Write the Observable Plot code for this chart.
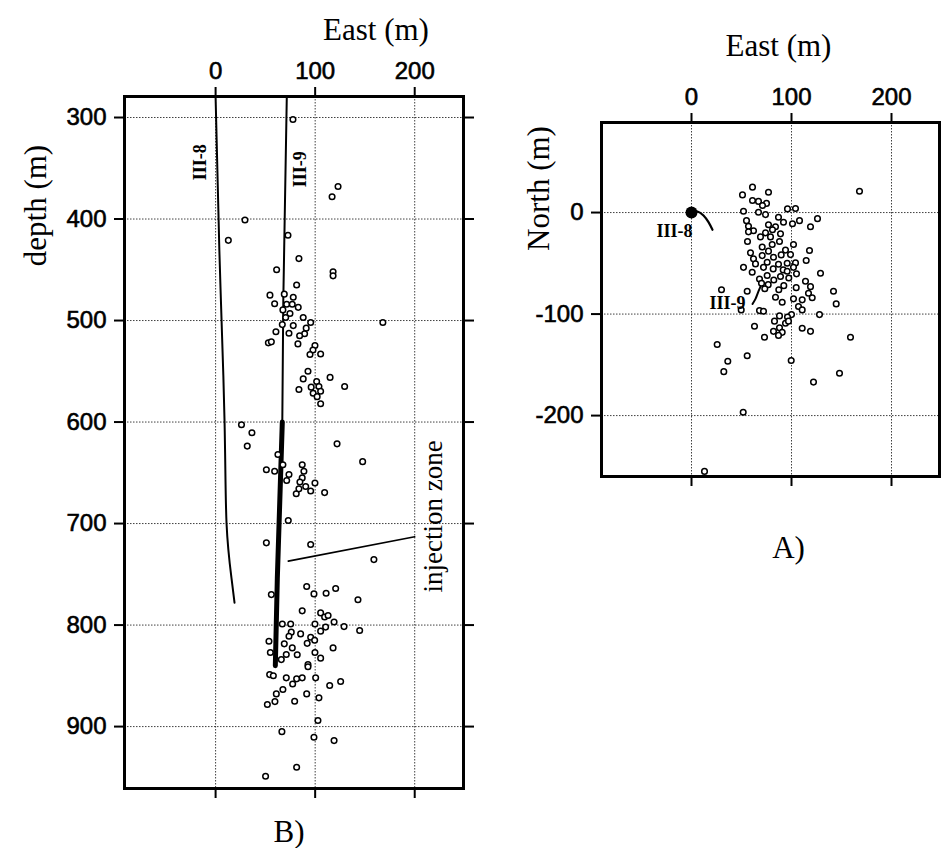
<!DOCTYPE html>
<html><head><meta charset="utf-8">
<script src="https://cdn.jsdelivr.net/npm/d3@7"></script>
<script src="https://cdn.jsdelivr.net/npm/@observablehq/plot@0.6"></script>
<style>
body{margin:0;background:#fff}
#wrap{position:relative;width:941px;height:848px;overflow:hidden;background:#fff}
#left{position:absolute;left:0;top:0}
#right{position:absolute;left:480px;top:0}
g[aria-label$="tick label"] text{stroke:#000;stroke-width:0.6px}
</style></head><body><div id="wrap"><div id="left"></div><div id="right"></div></div>
<script>
// ---- tick values ----
const ticksEast = [0, 100, 200];
const ticksDepth = [300, 400, 500, 600, 700, 800, 900];
const ticksNorth = [0, -100, -200];

// ---- B) depth section: events (East m, depth m) ----
const sideEast = [77.7,123,117,29.5,12.8,72.7,83.7,61.3,118,118,81.4,54.6,69,78,
59.3,71.4,77,83,67.6,74.7,70.4,88,95.5,168,67,78,91,60.6,73.7,89.4,84.4,53,56,82.7,99.8,97.8,105.5,94.8,
92.8,88,115,129.6,83.7,101.5,96,103.8,98,105.5,102,105.5,26,36.5,31.8,122,147.7,62.6,67.6,87,51,59.3,88.7,
73.7,87,71.4,84.7,99.8,90.5,109.5,81,95.5,83.7,73,51,95.5,159,
91.5,56,98.8,111,120.6,143,87,105.5,109.5,113,119,129,144.7,67,75.4,99.8,110.5,76,105.5,85.4,95.5,99.5,73.7,
53.6,69,92,118,77,55,71,82,99.8,105.5,66,92.8,92.8,54.3,58,71,81.4,87,100.5,125.6,77.4,114.6,67.6,61,91.5,
52,59.6,79.4,103.8,102.8,66.6,98.8,119,81.4,50.2];
const sideDepth = [302,368,378,401,421,416,439,450,452,456,465,475,474,477,
483.5,484,484,487,489.5,493,497,497,502,502,504,505,507.5,511,512.5,513,515,522,521,523,524.6,529,533,533.5,
550,557.5,556,565,568,560,565.6,565,571.6,569.6,575,582,602.7,610.6,623.7,621.5,639,632,642,642,647,648.5,648.5,
651.7,655,657.6,659,660,663.5,669.5,670.7,668,665.8,697,719,720.7,735.5,
762,770,769.3,768.6,764,775,786,788,792,790.6,797,801.5,805.4,799,799,799,802,807,806,808.7,812,815,811,
816,818.5,818,822.5,822.5,827,829,829.3,827,832.6,834,839,841,848.8,850,852,853,852,852,855.6,858,859.6,863.5,867.8,867.8,
878.3,875.4,875,871.7,894,905,910.5,913.8,940,949];

// well tracks in section
const well8SideEast = [0, 3, 5, 9, 11, 16, 19];
const well8SideDepth = [280, 400, 470, 600, 700, 754, 778];
const well9UpperEast = [71.5, 68, 67];
const well9UpperDepth = [280, 480, 600];
const well9LowerEast = [67, 62, 60];
const well9LowerDepth = [600, 754, 840];
const injectionEast = [73, 200];
const injectionDepth = [737, 713];
const sideLabels = ["III-8", "III-9"];
const sideLabelEast = [-15, 85];
const sideLabelDepth = [344, 351];
const injectionLabel = ["injection zone"];
const injectionLabelEast = [219];
const injectionLabelDepth = [693];

// ---- A) map view: events (East m, North m) ----
const mapEast = [61,51,77,168,61,67,75,71,52,67,74,96,104,87,126,55,92,108,77,101,57,119,84,62,81,74,57,89,69,79,
56,88,80.7,102,70.7,94,118,77,59,99,89.7,70.7,62,82,114.7,75.7,104,64,87,95.7,102,52,72,81.7,91.7,129,95.7,60.7,
105,75.7,89,97.3,68,82.3,114,70,76.7,92.3,119,104.7,73.3,87.3,30,55.7,142,117,84,102,110.7,120.7,90.7,144.7,107,
49.7,68,72,110.7,128,100,88,96,83,94,97,82,88,90.7,87,63,73,110.7,119,159,25.7,55.7,99.7,36.3,32.3,148,122,51.7,13];
const mapNorth = [25,17.4,20,21,11.8,11,9,7,1.3,0.3,-2,3.6,4,-4.6,-6,-8,-9.5,-8,-12,-11,-13.5,-14,-14,-18,-17,-20,-19,-21,-24,-24,
-28.5,-28.5,-31.5,-31.5,-34,-37,-37.4,-38,-39.7,-41.4,-41.7,-42.4,-45.6,-44,-47.3,-49,-49.6,-50.6,-51,-50,-54,-54,-54,-55.5,-56.5,-59.8,-57.8,-58.8,
-60.4,-62,-63,-64.4,-65.4,-66.4,-67.7,-69.6,-71,-72,-73,-74,-75,-76,-76,-77.5,-77.5,-79.5,-83.4,-85,-86,-84,-88.4,-90,-92.6,
-95.9,-96.6,-97.2,-95.9,-100.5,-100.5,-101.8,-103,-107,-109,-107,-117,-113.6,-118,-121,-112,-122.8,-114,-117,-122.8,-130,-141,-145.8,-146.5,-156.7,-158.3,-167,-196.7,-255];

const well8MapEast = [0, 6, 12, 17, 21];
const well8MapNorth = [0, 1, -3, -9.5, -17];
const well9MapEast = [61, 64, 66, 69];
const well9MapNorth = [-90, -85, -80, -73];
const wellHeadEast = [0];
const wellHeadNorth = [0];
const mapLabels = ["III-8", "III-9"];
const mapLabelEast = [-17, 36];
const mapLabelNorth = [-18.7, -89.7];

// ---- helpers ----
const zip = (a, b) => a.map((v, i) => ({x: v, y: b[i]}));
const SANS = "'Liberation Sans', Arial, sans-serif";
const SERIF = "'Liberation Serif', 'Times New Roman', serif";
const grid = {stroke: "#000", strokeOpacity: 0.75, strokeWidth: 1, strokeDasharray: "1.5,1.5"};
const tickStyle = {tickSize: 10, strokeWidth: 2, stroke: "#000", label: null};
const dotStyle = {x: "x", y: "y", r: 2.8, stroke: "#000", strokeWidth: 1.5, fill: "white"};
const plainFormat = d => String(d);

// ---- B) left plot ----
const left = Plot.plot({
  width: 480, height: 848,
  marginLeft: 124, marginRight: 17, marginTop: 96, marginBottom: 60,
  style: {fontFamily: SANS, background: "white", overflow: "visible"},
  x: {domain: [-91.5, 249], label: null},
  y: {domain: [279.3, 961], reverse: true, label: null},
  marks: [
    Plot.gridX(ticksEast, grid),
    Plot.gridY(ticksDepth, grid),
    Plot.axisX(ticksEast, {anchor: "top", ...tickStyle, tickPadding: 8, fontSize: 24, fill: "#000", tickFormat: plainFormat}),
    Plot.axisX(ticksEast, {anchor: "bottom", ...tickStyle, tickFormat: () => ""}),
    Plot.axisY(ticksDepth, {anchor: "left", ...tickStyle, tickPadding: 8, fontSize: 24, fill: "#000", tickFormat: plainFormat}),
    Plot.axisY(ticksDepth, {anchor: "right", ...tickStyle, tickFormat: () => ""}),
    Plot.line(zip(well8SideEast, well8SideDepth), {x: "x", y: "y", stroke: "#000", strokeWidth: 2, curve: "natural"}),
    Plot.line(zip(well9UpperEast, well9UpperDepth), {x: "x", y: "y", stroke: "#000", strokeWidth: 2}),
    Plot.line(zip(well9LowerEast, well9LowerDepth), {x: "x", y: "y", stroke: "#000", strokeWidth: 5}),
    Plot.line(zip(injectionEast, injectionDepth), {x: "x", y: "y", stroke: "#000", strokeWidth: 1.6}),
    Plot.dot(zip(sideEast, sideDepth), dotStyle),
    Plot.text(sideLabels, {x: (d, i) => sideLabelEast[i], y: (d, i) => sideLabelDepth[i], text: d => d,
      rotate: -90, fontSize: 18, fontWeight: "bold", fontFamily: SERIF, fill: "#000"}),
    Plot.text(injectionLabel, {x: (d, i) => injectionLabelEast[i], y: (d, i) => injectionLabelDepth[i], text: d => d,
      rotate: -90, fontSize: 27, fontFamily: SERIF, fill: "#000"}),
    Plot.text(["East (m)"], {frameAnchor: "top", dx: 82, dy: -57, lineAnchor: "bottom", textAnchor: "middle",
      fontSize: 31, fontFamily: SERIF, fill: "#000"}),
    Plot.text(["depth (m)"], {frameAnchor: "left", dx: -79, dy: -237, rotate: -90, lineAnchor: "bottom", textAnchor: "middle",
      fontSize: 31, fontFamily: SERIF, fill: "#000"}),
    Plot.text(["B)"], {frameAnchor: "bottom", dx: -5, dy: 44, lineAnchor: "middle", textAnchor: "middle",
      fontSize: 31, fontFamily: SERIF, fill: "#000"}),
    Plot.frame({stroke: "#000", strokeWidth: 3})
  ]
});
document.getElementById("left").append(left);

// ---- A) right plot ----
const right = Plot.plot({
  width: 461, height: 600,
  marginLeft: 121, marginRight: 2, marginTop: 122, marginBottom: 124,
  style: {fontFamily: SANS, background: "white", overflow: "visible"},
  x: {domain: [-90, 248], label: null},
  y: {domain: [-260, 88.7], label: null},
  marks: [
    Plot.gridX(ticksEast, grid),
    Plot.gridY(ticksNorth, grid),
    Plot.axisX(ticksEast, {anchor: "top", ...tickStyle, tickPadding: 8, fontSize: 24, fill: "#000", tickFormat: plainFormat}),
    Plot.axisX(ticksEast, {anchor: "bottom", ...tickStyle, tickFormat: () => ""}),
    Plot.axisY(ticksNorth, {anchor: "left", ...tickStyle, tickPadding: 8, fontSize: 24, fill: "#000", tickFormat: plainFormat}),
    Plot.line(zip(well8MapEast, well8MapNorth), {x: "x", y: "y", stroke: "#000", strokeWidth: 2.2, curve: "natural"}),
    Plot.line(zip(well9MapEast, well9MapNorth), {x: "x", y: "y", stroke: "#000", strokeWidth: 2, curve: "natural"}),
    Plot.dot(zip(mapEast, mapNorth), dotStyle),
    Plot.dot(zip(wellHeadEast, wellHeadNorth), {x: "x", y: "y", r: 6, fill: "#000"}),
    Plot.text(mapLabels, {x: (d, i) => mapLabelEast[i], y: (d, i) => mapLabelNorth[i], text: d => d,
      fontSize: 18, fontWeight: "bold", fontFamily: SERIF, fill: "#000"}),
    Plot.text(["East (m)"], {frameAnchor: "top", dx: 8, dy: -67, lineAnchor: "bottom", textAnchor: "middle",
      fontSize: 31, fontFamily: SERIF, fill: "#000"}),
    Plot.text(["North (m)"], {frameAnchor: "left", dx: -53, dy: -111, rotate: -90, lineAnchor: "bottom", textAnchor: "middle",
      fontSize: 31, fontFamily: SERIF, fill: "#000"}),
    Plot.text(["A)"], {frameAnchor: "bottom", dx: 18, dy: 72, lineAnchor: "middle", textAnchor: "middle",
      fontSize: 31, fontFamily: SERIF, fill: "#000"}),
    Plot.frame({stroke: "#000", strokeWidth: 3})
  ]
});
document.getElementById("right").append(right);
</script>
</body></html>
